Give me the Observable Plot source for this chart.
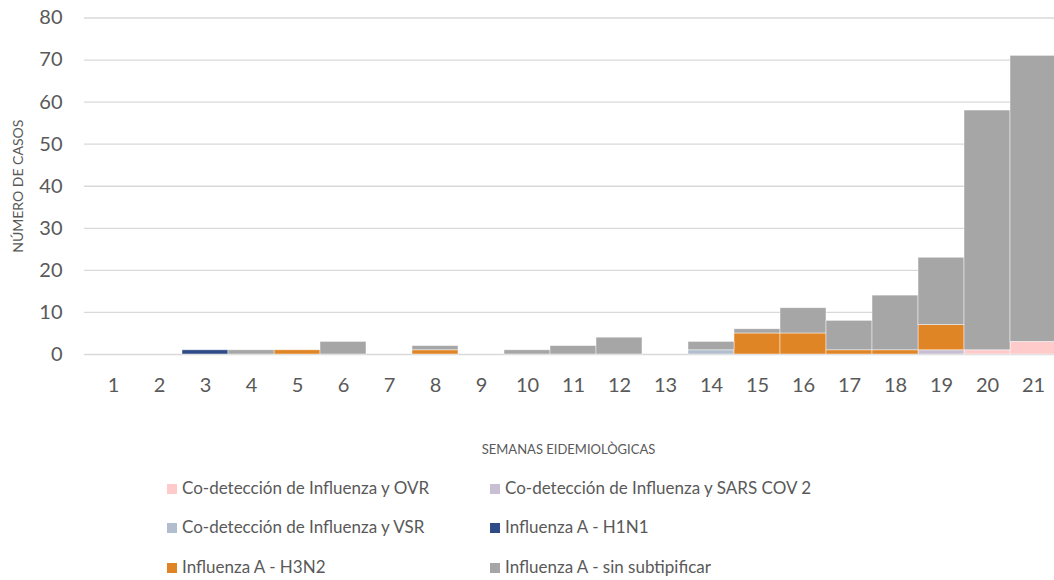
<!DOCTYPE html>
<html><head><meta charset="utf-8">
<script src="https://cdn.jsdelivr.net/npm/d3@7"></script>
<script src="https://cdn.jsdelivr.net/npm/@observablehq/plot@0.6"></script>
<style>
html,body{margin:0;padding:0;background:#fff;overflow:hidden;width:1054px;height:580px;}
#chart{position:absolute;left:0;top:0;width:1062px;}
#chart svg{max-width:none !important;}
#legend{position:absolute;left:0;top:0;font-family:Lato,sans-serif;font-size:17px;color:#595959;}
.item{position:absolute;white-space:nowrap;line-height:20px;}
.sw{display:inline-block;width:10px;height:10px;margin-right:5px;vertical-align:0px;}
</style></head><body>
<div id="chart"></div>
<div id="legend"></div>
<script>
const weeks = [1,2,3,4,5,6,7,8,9,10,11,12,13,14,15,16,17,18,19,20,21];
const seriesNames = [
  "Co-detección de Influenza y OVR",
  "Co-detección de Influenza y SARS COV 2",
  "Co-detección de Influenza y VSR",
  "Influenza A - H1N1",
  "Influenza A - H3N2",
  "Influenza A - sin subtipificar"
];
const seriesColors = ["#ffcaca", "#c8c0d2", "#b2bdcd", "#2f4b87", "#e08526", "#a6a6a6"];
const ovr      = [0,0,0,0,0,0,0,0,0,0,0,0,0,0,0,0,0,0,0,1,3];
const sarsCov2 = [0,0,0,0,0,0,0,0,0,0,0,0,0,0,0,0,0,0,1,0,0];
const vsr      = [0,0,0,0,0,0,0,0,0,0,0,0,0,1,0,0,0,0,0,0,0];
const h1n1     = [0,0,1,0,0,0,0,0,0,0,0,0,0,0,0,0,0,0,0,0,0];
const h3n2     = [0,0,0,0,1,0,0,1,0,0,0,0,0,0,5,5,1,1,6,0,0];
const sinSub   = [0,0,0,1,0,3,0,1,0,1,2,4,0,2,1,6,7,13,16,57,68];
const yTicks = [0,10,20,30,40,50,60,70,80];
const yTitle = "NÚMERO DE CASOS";
const xTitle = "SEMANAS EIDEMIOLÒGICAS";

const valueArrays = [ovr, sarsCov2, vsr, h1n1, h3n2, sinSub];
const rows = [];
valueArrays.forEach((arr, si) => {
  arr.forEach((v, wi) => { if (v > 0) rows.push({week: weeks[wi], serie: seriesNames[si], value: v}); });
});

const font = "Lato, sans-serif";
const plot = Plot.plot({
  width: 1062,
  height: 470,
  marginLeft: 84,
  marginRight: 0,
  marginTop: 17.5,
  marginBottom: 116,
  style: {fontFamily: font, background: "white", overflow: "visible", maxWidth: "none"},
  x: {type: "band", domain: weeks, padding: 0, label: null},
  y: {domain: [0, 80], label: null},
  color: {domain: seriesNames, range: seriesColors},
  marks: [
    Plot.gridY(yTicks, {stroke: "#d9d9d9", strokeOpacity: 1, strokeWidth: 1.3}),
    Plot.barY(rows, Plot.stackY({order: seriesNames}, {
      x: "week", y: "value", z: "serie", fill: "serie",
      stroke: "white", strokeOpacity: 0.6, strokeWidth: 0.75
    })),
    Plot.axisY(yTicks, {tickSize: 0, tickPadding: 22, fontSize: 20, fill: "#595959", label: null}),
    Plot.axisX(weeks, {tickSize: 0, tickPadding: 23, fontSize: 20, fill: "#595959", label: null}),
    Plot.text([yTitle], {frameAnchor: "left", dx: -66, rotate: -90, fontSize: 14, fill: "#595959", textAnchor: "middle", lineAnchor: "middle"}),
    Plot.text([xTitle], {frameAnchor: "bottom", dy: 95, dx: -5, fontSize: 13, fill: "#595959", textAnchor: "middle", lineAnchor: "middle"})
  ]
});
document.getElementById("chart").appendChild(plot);

const legendPos = [[167, 478], [490, 478], [167, 517], [490, 517], [167, 557], [490, 557]];
const lg = document.getElementById("legend");
seriesNames.forEach((name, i) => {
  const d = document.createElement("div");
  d.className = "item";
  d.style.left = legendPos[i][0] + "px";
  d.style.top = legendPos[i][1] + "px";
  d.innerHTML = `<span class="sw" style="background:${seriesColors[i]}"></span>${name}`;
  lg.appendChild(d);
});
</script>
</body></html>
